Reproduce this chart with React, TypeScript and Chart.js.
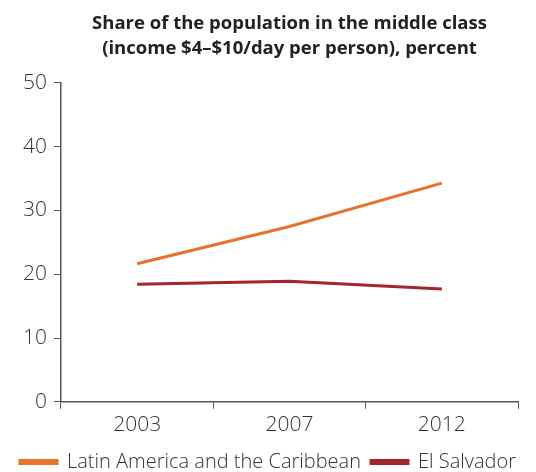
import React, { useEffect, useRef } from "react";
import { Chart, registerables } from "chart.js";

Chart.register(...registerables);

const categories = ["2003", "2007", "2012"];
const lacValues = [21.65, 27.5, 34.3];
const elSalvadorValues = [18.45, 18.9, 17.7];
const titleLines = [
  "Share of the population in the middle class",
  "(income $4–$10/day per person), percent",
];

const FONT = "Open Sans";

export default function App() {
  const ref = useRef<HTMLCanvasElement | null>(null);
  useEffect(() => {
    document.body.style.margin = "0";
    const ctx = ref.current!;
    const chart = new Chart(ctx, {
      type: "line",
      data: {
        labels: categories,
        datasets: [
          {
            label: "Latin America and the Caribbean",
            data: lacValues,
            borderColor: "#E8722C",
            backgroundColor: "#E8722C",
            borderWidth: 3,
            pointRadius: 0,
            tension: 0,
          },
          {
            label: "El Salvador",
            data: elSalvadorValues,
            borderColor: "#A3262C",
            backgroundColor: "#A3262C",
            borderWidth: 3,
            pointRadius: 0,
            tension: 0,
          },
        ],
      },
      options: {
        responsive: false,
        animation: false,
        layout: { padding: { left: 0, right: 0, top: 0, bottom: -10 } },
        plugins: {
          title: {
            display: true,
            fullSize: false,
            text: titleLines,
            color: "#222",
            font: { family: FONT, size: 18.5, weight: "bold", lineHeight: 1.35 },
            padding: { top: 11, bottom: 22 },
          },
          legend: {
            position: "bottom",
            labels: {
              boxWidth: 37,
              boxHeight: 3,
              color: "#333",
              font: { family: FONT, size: 20, weight: "300" },
              padding: 10,
            },
          },
          tooltip: { enabled: false },
        },
        scales: {
          x: {
            offset: true,
            grid: {
              offset: true,
              drawOnChartArea: false,
              drawTicks: true,
              tickLength: 7,
              color: "#555",
            },
            border: { display: true, color: "#555", width: 1.5 },
            ticks: { color: "#333", font: { family: FONT, size: 21, weight: "300" }, padding: 4 },
          },
          y: {
            min: 0,
            max: 50,
            ticks: { stepSize: 10, color: "#333", font: { family: FONT, size: 21, weight: "300" }, padding: 7 },
            grid: { drawOnChartArea: false, tickLength: 7, color: "#555" },
            border: { display: true, color: "#555", width: 1.5 },
            afterFit: (scale: any) => {
              scale.width = 61;
            },
          },
          yRight: {
            position: "right",
            display: true,
            grid: { display: false, drawTicks: false },
            border: { display: false },
            ticks: { display: false },
            afterFit: (scale: any) => {
              scale.width = 18;
            },
          },
        },
      },
    });
    return () => chart.destroy();
  }, []);
  return <canvas ref={ref} width={536} height={472} />;
}
